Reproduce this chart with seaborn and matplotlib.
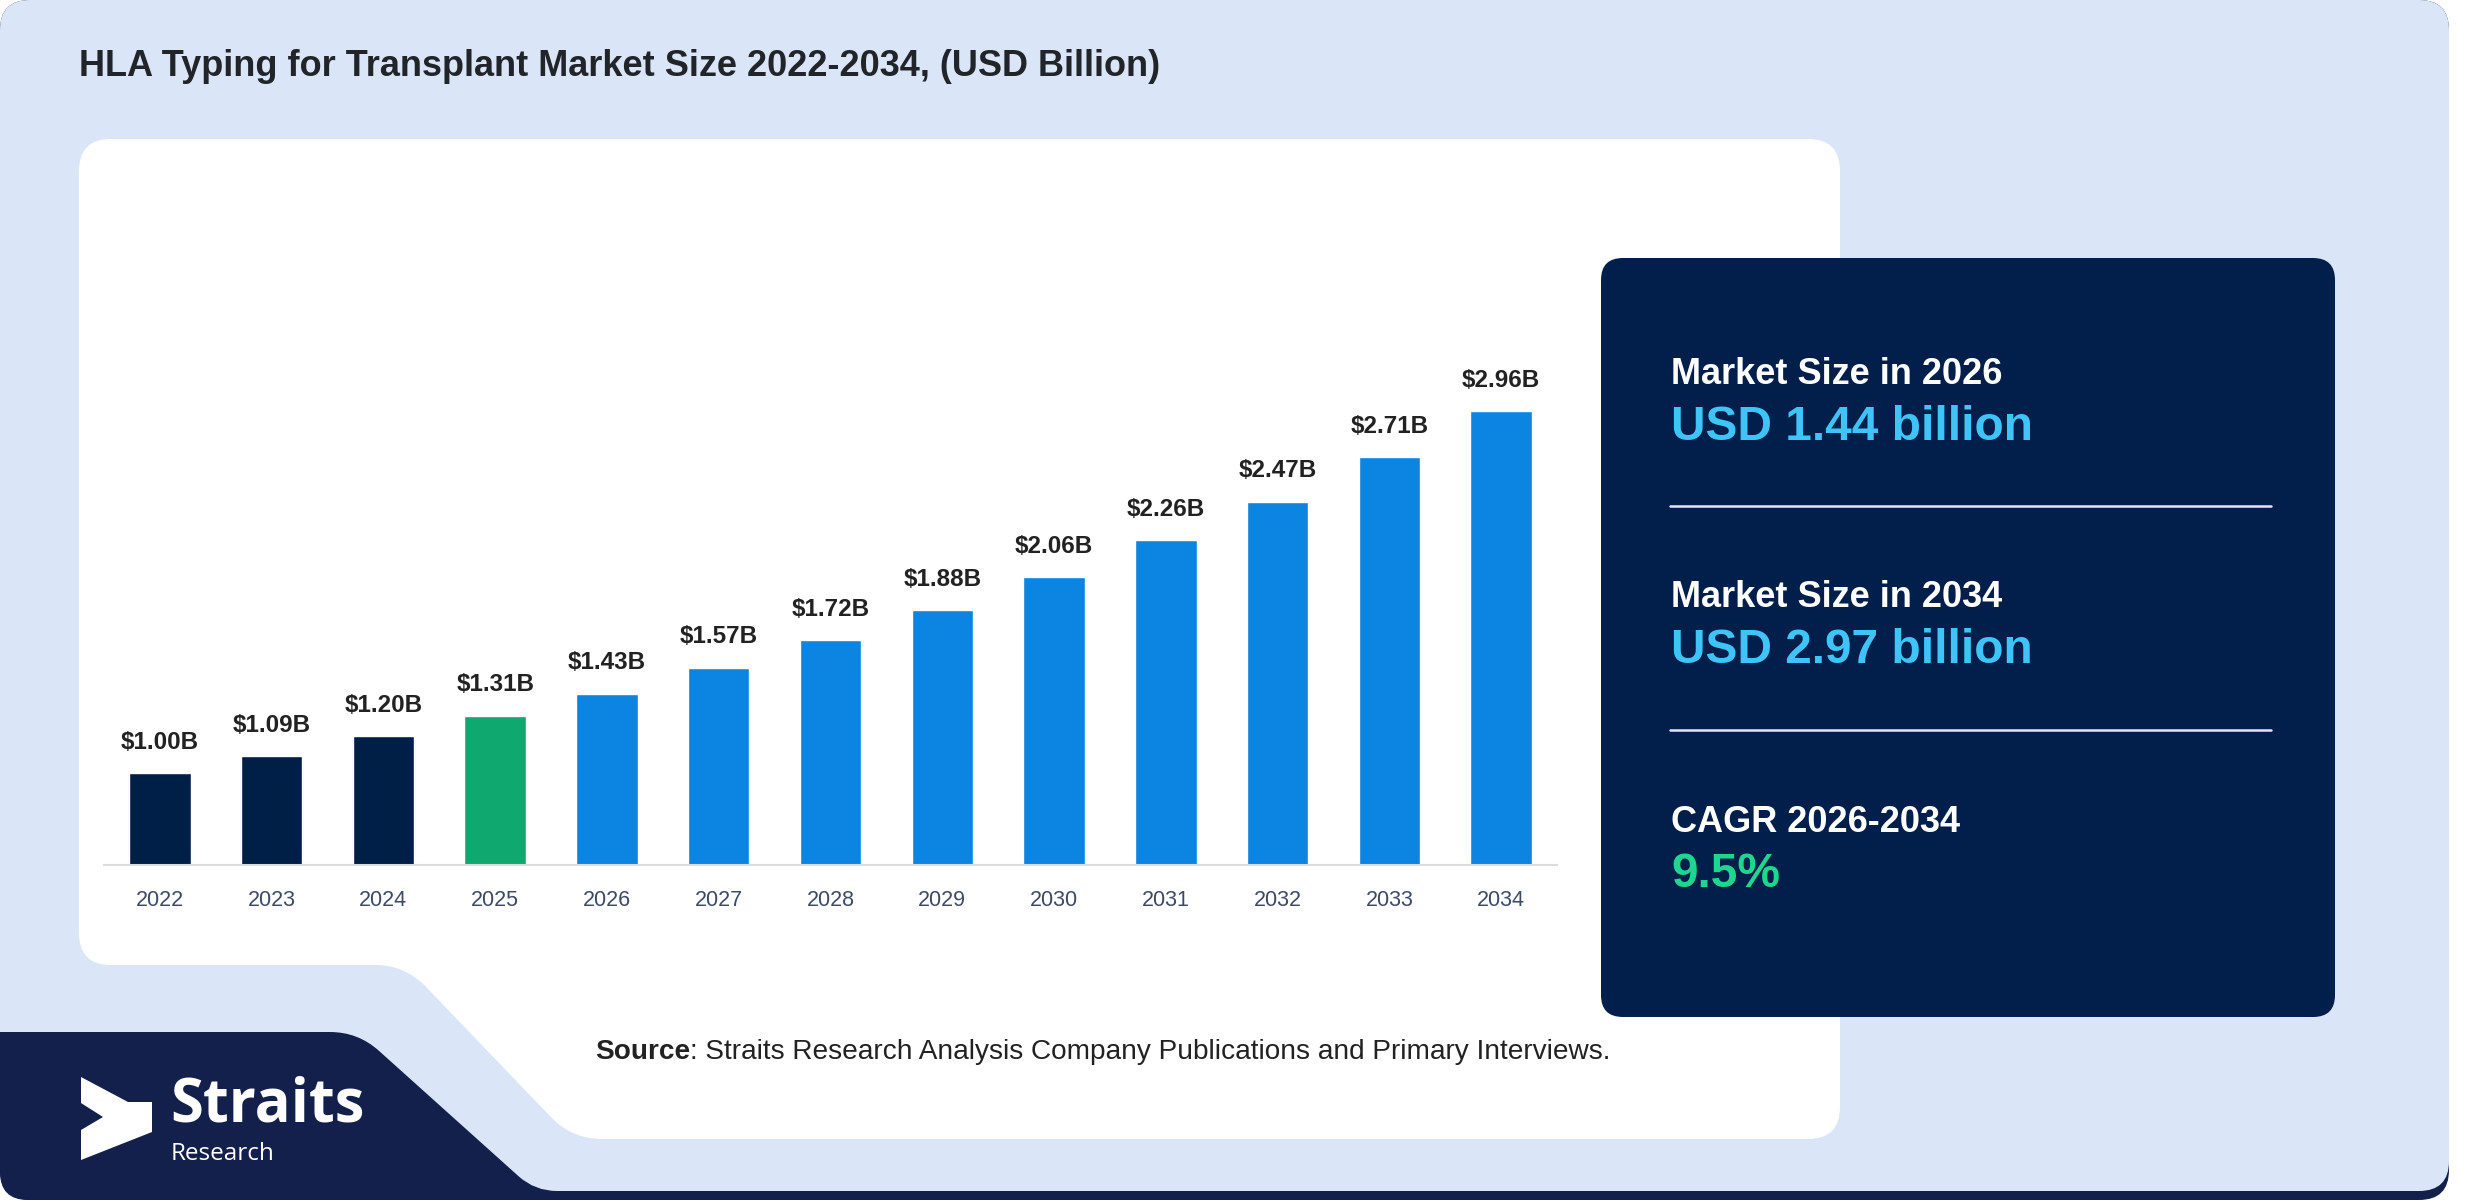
import matplotlib
matplotlib.use("Agg")
import numpy as np
import matplotlib.pyplot as plt
import seaborn as sns
import pandas as pd
from matplotlib.patches import PathPatch
from matplotlib.path import Path

# --- data ---
years = ["2022", "2023", "2024", "2025", "2026", "2027", "2028",
         "2029", "2030", "2031", "2032", "2033", "2034"]
market_size = [1.00, 1.09, 1.20, 1.31, 1.43, 1.57, 1.72,
               1.88, 2.06, 2.26, 2.47, 2.71, 2.96]
value_labels = ["$1.00B", "$1.09B", "$1.20B", "$1.31B", "$1.43B", "$1.57B", "$1.72B",
                "$1.88B", "$2.06B", "$2.26B", "$2.47B", "$2.71B", "$2.96B"]
bar_colors = ["#001f47"] * 3 + ["#0fa86f"] + ["#0b84e2"] * 9

title = "HLA Typing for Transplant Market Size 2022-2034, (USD Billion)"
card_heads = ["Market Size in 2026", "Market Size in 2034", "CAGR 2026-2034"]
card_values = ["USD 1.44 billion", "USD 2.97 billion", "9.5%"]
card_value_colors = ["#3ec4f7", "#3ec4f7", "#1ed68e"]

W, H = 2480, 1200
BG = "#dae6f8"
NAVY = "#011f4a"
LOGO_NAVY = "#13204b"

sns.set_style("white")
plt.rcParams["font.family"] = ["Liberation Sans", "DejaVu Sans"]

fig = plt.figure(figsize=(W / 100, H / 100), dpi=100)
fig.patch.set_facecolor("white")


def pin(x, y):
    # pixel (top-left origin) -> inches for dpi_scale_trans
    return (x / 100, (H - y) / 100)


def fx(x):
    return x / W


def fy(y):
    return 1 - y / H


def shape(pts, radii, color, z):
    # closed polygon with rounded corners (quadratic curves)
    verts, codes = [], []
    n = len(pts)
    first = None
    for i in range(n):
        p = np.array(pts[i], float)
        a = np.array(pts[i - 1], float)
        b = np.array(pts[(i + 1) % n], float)
        r = radii[i]
        s = p + (a - p) / np.linalg.norm(a - p) * r
        e = p + (b - p) / np.linalg.norm(b - p) * r
        verts.append(pin(*s))
        codes.append(Path.MOVETO if i == 0 else Path.LINETO)
        if first is None:
            first = pin(*s)
        if r > 0:
            verts += [pin(*p), pin(*e)]
            codes += [Path.CURVE3, Path.CURVE3]
    verts += [first, first]
    codes += [Path.LINETO, Path.CLOSEPOLY]
    fig.add_artist(PathPatch(Path(verts, codes), transform=fig.dpi_scale_trans,
                             facecolor=color, edgecolor="none", zorder=z))


def rect(x0, y0, x1, y1, r, color, z):
    shape([(x0, y0), (x1, y0), (x1, y1), (x0, y1)], [r] * 4, color, z)


# background (navy strip peeks out under the bottom edge)
rect(0, 0, 2449, 1200, 30, LOGO_NAVY, 0)
rect(0, 0, 2449, 1191, 30, BG, 0.5)

# white panel with the slanted cut at bottom-left
shape([(79, 139), (1840, 139), (1840, 1139), (572, 1139), (405, 965), (79, 965)],
      [32, 32, 32, 30, 30, 32], "white", 1)

# navy logo band at bottom-left
shape([(0, 1032), (358, 1032), (535, 1191), (800, 1191), (800, 1200), (0, 1200)],
      [0, 28, 22, 0, 0, 28], LOGO_NAVY, 2)

# logo arrow
shape([(81, 1077), (128, 1102), (152, 1102), (152, 1132),
       (81, 1160), (81, 1130), (103, 1117), (81, 1103)],
      [0] * 8, "white", 3)
fig.text(fx(170), fy(1122), "Straits", fontsize=43, fontweight="bold",
         color="white", family=["Open Sans", "DejaVu Sans"], va="baseline", zorder=4)
fig.text(fx(171), fy(1160), "Research", fontsize=17.5,
         color="white", family=["Open Sans", "DejaVu Sans"], va="baseline", zorder=4)

# title
fig.text(fx(79), fy(66), title, fontsize=26, fontweight="bold",
         color="#212428", va="center", zorder=4)

# --- bar chart ---
df = pd.DataFrame({"year": years, "size": market_size})
ax = fig.add_axes([fx(104), fy(865), (1557 - 104) / W, (865 - 300) / H])
ax.set_zorder(5)
ax.patch.set_alpha(0)
sns.barplot(data=df, x="year", y="size", hue="year",
            palette=dict(zip(years, bar_colors)), saturation=1,
            width=0.55, legend=False, ax=ax)
ax.set_xlim(-0.5, 12.5)
ax.set_ylim(0.502, 0.502 + 565 / 184.7)
for cont, lab in zip(ax.containers, value_labels):
    ax.bar_label(cont, labels=[lab], padding=14, fontsize=17.5,
                 fontweight="bold", color="#222222")
ax.set_xlabel("")
ax.set_ylabel("")
ax.set_yticks([])
ax.tick_params(axis="x", length=0, pad=18, labelsize=15.5, labelcolor="#3d4a66")
for s in ["top", "right", "left"]:
    ax.spines[s].set_visible(False)
ax.spines["bottom"].set_color("#dddddd")
ax.spines["bottom"].set_linewidth(1.5)

# source line
src = fig.text(fx(595), fy(1052), "Source", fontsize=20.2, fontweight="bold",
               color="#222222", va="center", zorder=6)
fig.canvas.draw()
bb = src.get_window_extent(renderer=fig.canvas.get_renderer())
fig.text(bb.x1 / W, fy(1052),
         ": Straits Research Analysis Company Publications and Primary Interviews.",
         fontsize=20.2, color="#222222", va="center", zorder=6)

# --- summary card ---
rect(1601, 258, 2335, 1017, 22, NAVY, 7)
head_y = [384, 607, 832]
val_y = [440, 663, 887]
for h, v, c, hy, vy in zip(card_heads, card_values, card_value_colors, head_y, val_y):
    fig.text(fx(1671), fy(hy), h, fontsize=26, fontweight="bold",
             color="white", va="baseline", zorder=8)
    fig.text(fx(1671), fy(vy), v, fontsize=34.5, fontweight="bold",
             color=c, va="baseline", zorder=8)
for ly in [506, 730]:
    fig.add_artist(plt.Line2D([fx(1670), fx(2271)], [fy(ly), fy(ly)],
                              transform=fig.transFigure, color="#e6e6e6",
                              linewidth=1.8, zorder=8))

fig.savefig("out.png", dpi=100, facecolor=fig.get_facecolor())
